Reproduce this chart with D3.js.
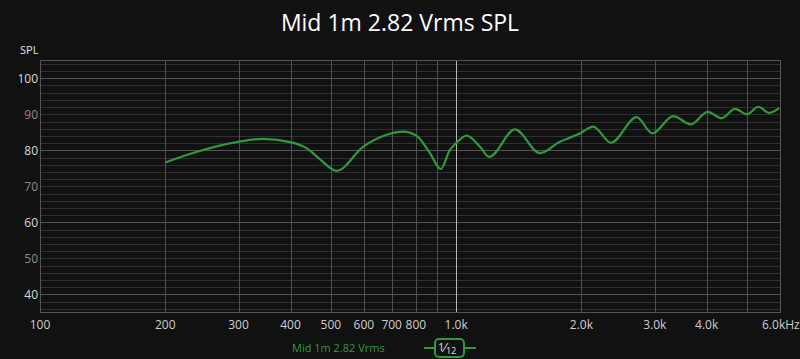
<!DOCTYPE html>
<html>
<head>
<meta charset="utf-8">
<script src="https://cdn.jsdelivr.net/npm/d3@7"></script>
<style>
  body { margin: 0; background: #111111; }
  svg { display: block; font-family: "Open Sans", sans-serif; }
</style>
</head>
<body>
<div id="chart"></div>
<script>
var freqs = [200, 234, 301, 344, 402, 437, 471, 516, 598, 681, 746, 804, 865, 918, 966, 1000, 1060, 1141, 1201,
    1385, 1590, 1776, 1876, 1984, 2135, 2355, 2715, 2960, 3324, 3667, 4021, 4345, 4677, 5005, 5320, 5654, 5975];
var spl = [76.6, 79.3, 82.4, 83.2, 82.2, 80.6, 77.5, 74.3, 81.0, 84.3, 85.2, 84.0, 79.2, 74.8, 80.1, 82.0, 84.1, 81.0, 78.2,
    85.8, 79.2, 82.4, 83.5, 84.7, 86.6, 82.1, 89.2, 84.7, 89.5, 87.2, 90.7, 88.9, 91.5, 90.0, 92.1, 90.4, 91.7];

var xTicks = [100, 200, 300, 400, 500, 600, 700, 800, 1000, 2000, 3000, 4000, 6000];
var xTickLabels = ["100", "200", "300", "400", "500", "600", "700", "800", "1.0k", "2.0k", "3.0k", "4.0k", "6.0kHz"];
var xGrid = [200, 300, 400, 500, 600, 700, 800, 900, 2000, 3000, 4000, 5000];
var yTicks = [40, 50, 60, 70, 80, 90, 100];

var width = 800, height = 359;
var margin = { top: 60, right: 20, bottom: 47, left: 40 };

var svg = d3.select("#chart").append("svg")
    .attr("width", width)
    .attr("height", height);

var x = d3.scaleLog().domain([100, 6000]).range([margin.left, 780]);
var y = d3.scaleLinear().domain([35, 105]).range([312.3, 60.3]);

// horizontal grid
svg.append("g").selectAll("line")
    .data(d3.range(36, 105, 2))
    .enter().append("line")
    .attr("x1", x(100)).attr("x2", x(6000))
    .attr("y1", function(d) { return Math.round(y(d)) + 0.5; })
    .attr("y2", function(d) { return Math.round(y(d)) + 0.5; })
    .attr("stroke", function(d) { return d % 20 == 0 ? "#555" : "#303030"; })
    .attr("stroke-width", 1);

// vertical grid
svg.append("g").selectAll("line")
    .data(xGrid)
    .enter().append("line")
    .attr("x1", function(d) { return Math.round(x(d)) + 0.5; })
    .attr("x2", function(d) { return Math.round(x(d)) + 0.5; })
    .attr("y1", y(105)).attr("y2", y(35))
    .attr("stroke", "#505050");

svg.append("line")
    .attr("x1", Math.round(x(1000)) + 0.5).attr("x2", Math.round(x(1000)) + 0.5)
    .attr("y1", y(105)).attr("y2", y(35))
    .attr("stroke", "#b8b8b8");

// plot frame
svg.append("rect")
    .attr("x", Math.round(x(100)) + 0.5)
    .attr("y", Math.round(y(105)) + 0.5)
    .attr("width", Math.round(x(6000)) - Math.round(x(100)))
    .attr("height", Math.round(y(35)) - Math.round(y(105)))
    .attr("fill", "none")
    .attr("stroke", "#555");

// y labels
svg.append("g").selectAll("text")
    .data(yTicks)
    .enter().append("text")
    .attr("x", 38)
    .attr("y", function(d) { return y(d) + 4.5; })
    .attr("text-anchor", "end")
    .style("font-size", "12px")
    .style("fill", function(d) { return d % 20 == 0 ? "#d8d8d8" : "#8a8a8a"; })
    .text(function(d) { return d; });

// x labels
svg.append("g").selectAll("text")
    .data(xTicks)
    .enter().append("text")
    .attr("x", function(d, i) { return i == xTicks.length - 1 ? x(d) - 18 : x(d); })
    .attr("y", 329)
    .attr("text-anchor", function(d, i) { return i == xTicks.length - 1 ? "start" : "middle"; })
    .style("font-size", "12px")
    .style("fill", "#cfcfcf")
    .text(function(d, i) { return xTickLabels[i]; });

svg.append("text")
    .attr("x", 20)
    .attr("y", 54)
    .style("font-size", "11px")
    .style("fill", "#e0e0e0")
    .text("SPL");

svg.append("text")
    .attr("x", 400)
    .attr("y", 31)
    .attr("text-anchor", "middle")
    .style("font-size", "23px")
    .style("fill", "#ffffff")
    .text("Mid 1m 2.82 Vrms SPL");

// response curve
var line = d3.line()
    .x(function(d, i) { return x(freqs[i]); })
    .y(function(d) { return y(d); })
    .curve(d3.curveMonotoneX);

svg.append("path")
    .datum(spl)
    .attr("d", line)
    .attr("fill", "none")
    .attr("stroke", "#2f9a3c")
    .attr("stroke-width", 2.2);

// legend
var green = "#2f9a3c";
svg.append("text")
    .attr("x", 292)
    .attr("y", 352)
    .style("font-size", "11px")
    .style("fill", green)
    .text("Mid 1m 2.82 Vrms");

svg.append("line")
    .attr("x1", 424).attr("x2", 476)
    .attr("y1", 348).attr("y2", 348)
    .attr("stroke", green).attr("stroke-width", 2);

svg.append("rect")
    .attr("x", 435).attr("y", 339)
    .attr("width", 29).attr("height", 18)
    .attr("rx", 4)
    .attr("fill", "#111111")
    .attr("stroke", green).attr("stroke-width", 2);

var frac = svg.append("text")
    .attr("x", 438)
    .attr("y", 352)
    .style("fill", "#e0e0e0");
frac.append("tspan").style("font-size", "11px").attr("dy", -1).text("1");
frac.append("tspan").style("font-size", "13px").attr("dy", 1).text("\u2044");
frac.append("tspan").style("font-size", "9px").attr("dy", 2).text("12");
</script>
</body>
</html>
